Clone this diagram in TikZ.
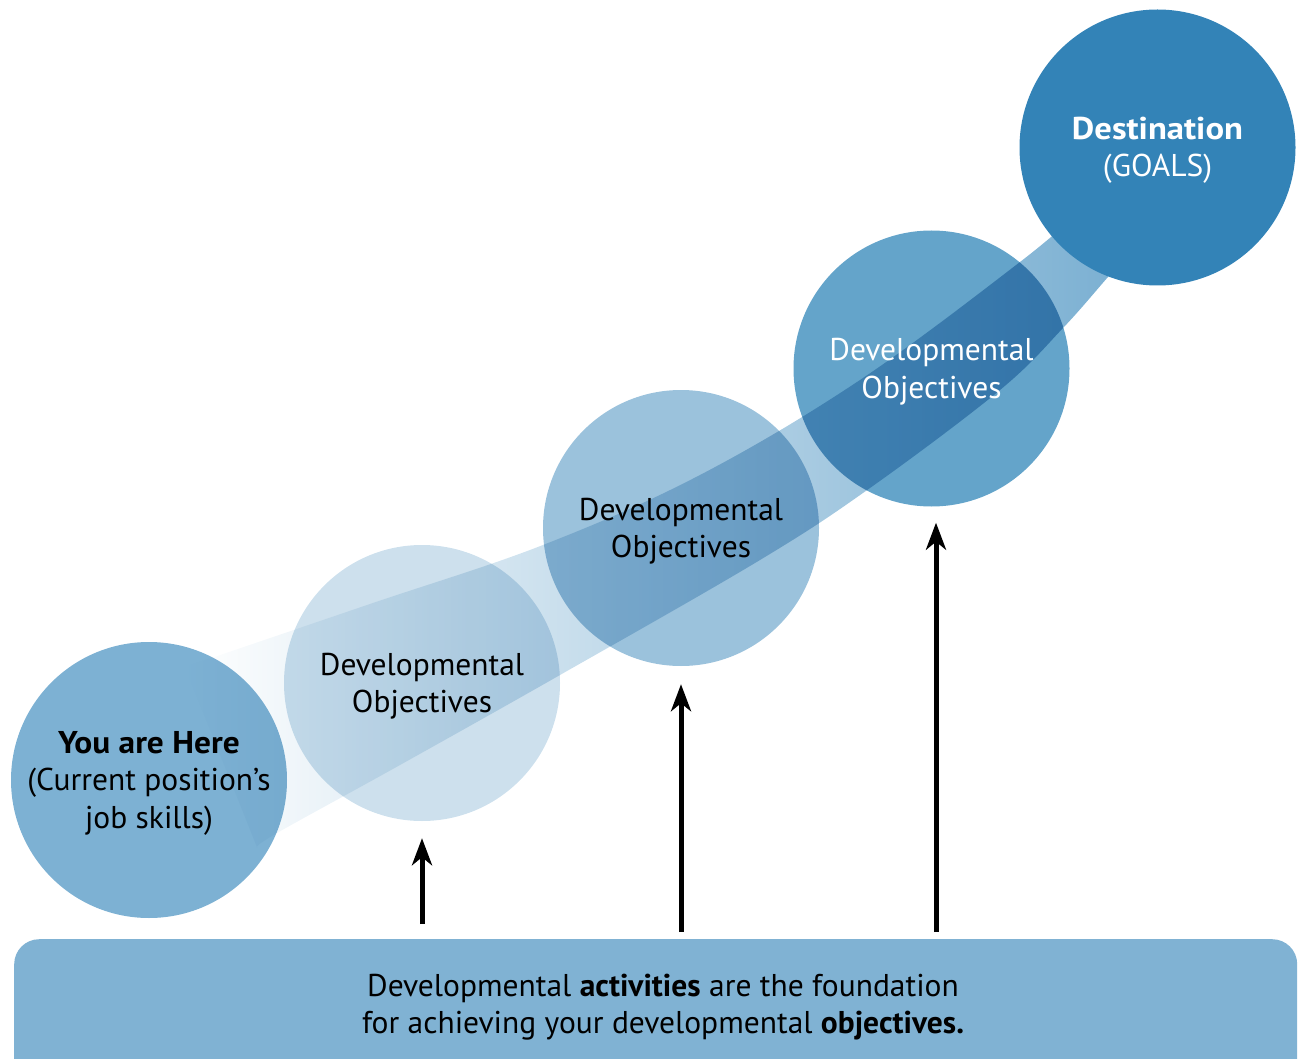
\documentclass[tikz,border=0pt]{standalone}
\usepackage{fontspec}
\setmainfont{PT Sans}
\usetikzlibrary{arrows.meta,calc}
\definecolor{yahc}{HTML}{7DB1D3}
\definecolor{doa}{HTML}{CDE0ED}
\definecolor{dob}{HTML}{9BC2DC}
\definecolor{doc}{HTML}{64A4CA}
\definecolor{destc}{HTML}{3383B7}
\definecolor{boxc}{HTML}{80B2D3}
\definecolor{bandc}{HTML}{78AED1}
\newcommand{\wideb}[2]{\scalebox{#1}[1]{\textbf{#2}}}
\begin{document}
\begin{tikzpicture}[x=1pt,y=-1pt,
  circ/.style={circle, minimum size=276pt, inner sep=0pt},
  lbl/.style={align=center, font=\fontsize{31.5}{37.5}\selectfont, inner sep=0pt},
  arr/.style={line width=5pt, -{Stealth[length=27pt,width=20pt,inset=8pt]}}]
\useasboundingbox (0,0) rectangle (1299,1059);
% circles
\node[circ, fill=yahc] (yah) at (149,780) {};
\node[circ, fill=doa] (do1) at (422,683) {};
\node[circ, fill=dob] (do2) at (681,528) {};
\node[circ, fill=doc] (do3) at (931.5,368.5) {};
% band
\begin{scope}[blend mode=multiply]
\shade[left color=white, right color=bandc]
  plot[smooth, tension=0.6] coordinates {(185,667) (370,604) (543,545) (700,475) (860,380) (1020,262) (1085,207)}
  -- plot[smooth, tension=0.6] coordinates {(1140,241) (1108,277) (1063,328) (1000,390) (870,488) (760,560) (560,675) (400,765) (277,833) (257,847)}
  -- cycle;
\end{scope}
\node[circ, fill=destc] (dest) at (1157.5,147.5) {};
% texts
\node[lbl] (yaht) at ($(yah)+(0,3)$) {\wideb{1.06}{You are Here}\\(Current position’s\\job skills)};
\node[lbl] (do1t) at ($(do1)+(0,3)$) {Developmental\\Objectives};
\node[lbl] (do2t) at ($(do2)+(0,3)$) {Developmental\\Objectives};
\node[lbl, text=white] (do3t) at ($(do3)+(0,3)$) {Developmental\\Objectives};
\node[lbl, text=white] (destt) at ($(dest)+(0,3)$) {\wideb{1.1}{Destination}\\(GOALS)};
% base box
\node[fill=boxc, rounded corners=25pt, minimum width=1283pt, minimum height=180pt, anchor=north west, inner sep=0pt] (base) at (14,939) {};
\node[lbl] (baset) at (663,1007) {Developmental \textbf{activities} are the foundation\\for achieving your developmental \textbf{objectives.}};
% arrows
\draw[arr] ($(base.north -| do1)+(0,-15)$) -- ($(do1.south)+(0,17)$);
\draw[arr] ($(base.north -| do2)+(0,-7)$) -- ($(do2.south)+(0,18)$);
\draw[arr] ($(base.north -| do3)+(4.5,-7)$) -- ($(do3.south)+(4.5,16)$);
\end{tikzpicture}
\end{document}
